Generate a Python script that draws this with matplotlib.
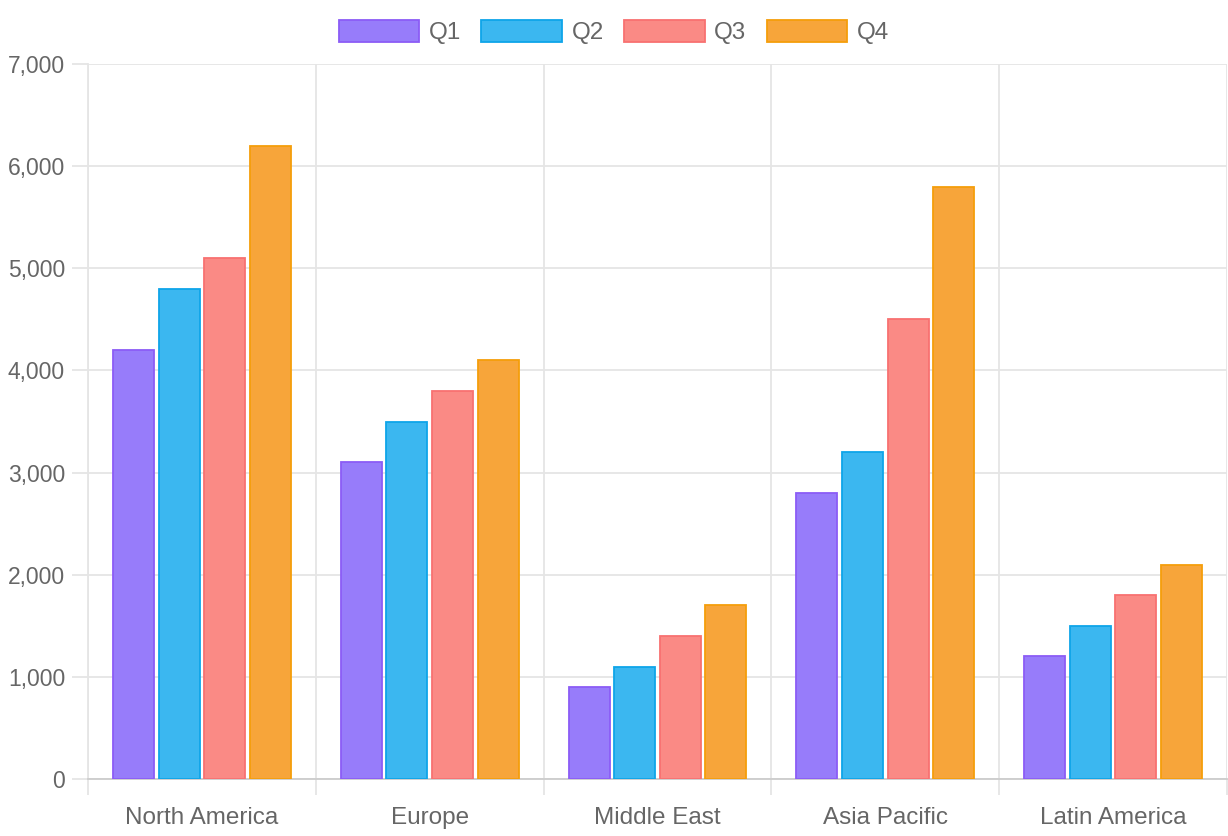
import numpy as np
import matplotlib
matplotlib.use("Agg")
import matplotlib.pyplot as plt
from matplotlib.patches import Rectangle
from matplotlib.ticker import FuncFormatter, MultipleLocator

# datos del gráfico
regiones = ["North America", "Europe", "Middle East", "Asia Pacific", "Latin America"]
trimestres = ["Q1", "Q2", "Q3", "Q4"]
q1 = [4200, 3100, 900, 2800, 1200]
q2 = [4800, 3500, 1100, 3200, 1500]
q3 = [5100, 3800, 1400, 4500, 1800]
q4 = [6200, 4100, 1700, 5800, 2100]

bordes = ["#8b5cf6", "#0ea5e9", "#f87171", "#f59e0b"]
rellenos = ["#977cfa", "#3bb7f0", "#fa8a85", "#f7a53a"]

plt.rcParams["font.family"] = ["Liberation Sans", "DejaVu Sans"]
gris_texto = "#666666"
gris_grid = "#e5e5e5"

fig = plt.figure(figsize=(12.28, 8.36), dpi=100)
ax = fig.add_axes([88 / 1228, 57 / 836, 1139 / 1228, 715 / 836])

x = np.arange(len(regiones))
ancho = 0.18
series = [q1, q2, q3, q4]
for i, valores in enumerate(series):
    desplaz = (i - 1.5) * 0.2
    ax.bar(x + desplaz, valores, width=ancho, color=rellenos[i],
           edgecolor=bordes[i], linewidth=1.3, zorder=3)

ax.set_xlim(-0.5, len(regiones) - 0.5)
ax.set_ylim(0, 7000)

# eje y
ax.yaxis.set_major_locator(MultipleLocator(1000))
ax.yaxis.set_major_formatter(FuncFormatter(lambda v, p: f"{int(v):,}"))
ax.grid(axis="y", color=gris_grid, linewidth=1.3, zorder=0)
ax.tick_params(axis="y", length=11.5, width=1.3, color=gris_grid, pad=5,
               labelsize=16.5, labelcolor=gris_texto)

# eje x: etiquetas en el centro, líneas en los bordes de categoría
ax.set_xticks(x)
ax.set_xticklabels(regiones)
ax.set_xticks(np.arange(-0.5, len(regiones)), minor=True)
ax.tick_params(axis="x", which="major", length=0, pad=20,
               labelsize=17.5, labelcolor=gris_texto)
ax.tick_params(axis="x", which="minor", length=11.5, width=1.3, color=gris_grid)
ax.grid(axis="x", which="minor", color=gris_grid, linewidth=1.3, zorder=0)

for lado in ["top", "right"]:
    ax.spines[lado].set_visible(False)
ax.spines["left"].set_color(gris_grid)
ax.spines["left"].set_linewidth(1.3)
ax.spines["bottom"].set_color("#cccccc")
ax.spines["bottom"].set_linewidth(1.3)

# leyenda arriba
manejadores = [Rectangle((0, 0), 1, 1, facecolor=rellenos[i], edgecolor=bordes[i],
                         linewidth=1.3) for i in range(4)]
fig.legend(manejadores, trimestres, loc="center", bbox_to_anchor=(0.5, 1 - 32 / 836),
           ncol=4, frameon=False, fontsize=17.5, labelcolor=gris_texto,
           handlelength=3.3, handleheight=1.0, handletextpad=0.4,
           columnspacing=0.85, borderaxespad=0)

fig.savefig("out.png", dpi=100)
